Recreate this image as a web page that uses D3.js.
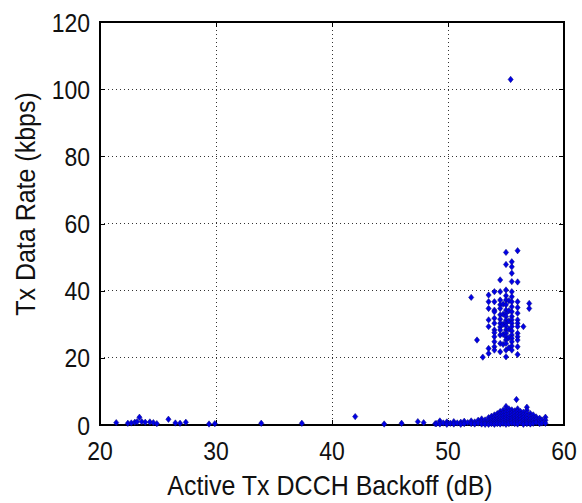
<!DOCTYPE html>
<html>
<head>
<meta charset="utf-8">
<script src="https://cdn.jsdelivr.net/npm/d3@7"></script>
<style>
  html, body { margin: 0; padding: 0; background: #fff; }
  svg { display: block; }
  text { font-family: "Liberation Sans", Arial, sans-serif; fill: #111; }
</style>
</head>
<body>
<div id="chart"></div>
<script>
// ---- data ----
const xTicks = [20, 30, 40, 50, 60];
const yTicks = [0, 20, 40, 60, 80, 100, 120];
const xLabel = "Active Tx DCCH Backoff (dB)";
const yLabel = "Tx Data Rate (kbps)";

// sparse low-rate points at small backoff
const sparsePoints = [
  [21.4, 0.7], [22.4, 0.5], [22.7, 0.6], [23.0, 0.8], [23.2, 1.0], [23.4, 2.3],
  [23.6, 1.0], [23.9, 0.8], [24.3, 0.9], [24.6, 0.7], [24.9, 0.4], [25.9, 1.7],
  [26.5, 0.6], [26.9, 0.5], [27.4, 0.8], [29.4, 0.3], [29.9, 0.4], [33.9, 0.5],
  [37.4, 0.5], [42.0, 2.5], [44.5, 0.3], [46.0, 0.5], [47.4, 1.0], [47.9, 0.7],
  [48.9, 0.4]
];

// dense low-rate band (backoff 49..58.5 dB)
const lowBandPoints = [
  [49.0, 0.4], [49.3, 1.2], [49.3, 0.3], [49.6, 0.6], [49.9, 0.9], [49.9, 0.2],
  [50.2, 0.5], [50.5, 1.0], [50.5, 0.3], [50.8, 0.6], [51.1, 0.8], [51.1, 0.2],
  [51.4, 1.1], [51.4, 0.4], [51.7, 0.7], [52.0, 1.2], [52.0, 0.4], [52.3, 0.9],
  [52.3, 0.3], [52.6, 1.4], [52.6, 0.6], [52.9, 1.8], [52.9, 1.0], [52.9, 0.3],
  [53.2, 1.5], [53.2, 0.7], [53.2, 0.2],
  [53.5, 2.2], [53.5, 1.3], [53.5, 0.6], [53.5, 0.2],
  [53.75, 2.6], [53.75, 1.8], [53.75, 1.0], [53.75, 0.4],
  [54.0, 3.0], [54.0, 2.2], [54.0, 1.4], [54.0, 0.7], [54.0, 0.2],
  [54.25, 3.4], [54.25, 2.5], [54.25, 1.7], [54.25, 1.0], [54.25, 0.4],
  [54.5, 4.0], [54.5, 3.2], [54.5, 2.4], [54.5, 1.6], [54.5, 0.9], [54.5, 0.3],
  [54.75, 4.4], [54.75, 3.5], [54.75, 2.7], [54.75, 1.9], [54.75, 1.2], [54.75, 0.5],
  [55.0, 5.5], [55.0, 4.6], [55.0, 3.8], [55.0, 3.0], [55.0, 2.2], [55.0, 1.5], [55.0, 0.8], [55.0, 0.2],
  [55.25, 4.8], [55.25, 4.0], [55.25, 3.2], [55.25, 2.4], [55.25, 1.7], [55.25, 1.0], [55.25, 0.4],
  [55.5, 4.5], [55.5, 3.6], [55.5, 2.8], [55.5, 2.0], [55.5, 1.3], [55.5, 0.6],
  [55.75, 4.2], [55.75, 3.4], [55.75, 2.6], [55.75, 1.8], [55.75, 1.1], [55.75, 0.4],
  [55.9, 7.6],
  [56.0, 4.8], [56.0, 4.0], [56.0, 3.2], [56.0, 2.4], [56.0, 1.6], [56.0, 0.9], [56.0, 0.3],
  [56.25, 4.0], [56.25, 3.2], [56.25, 2.4], [56.25, 1.6], [56.25, 0.8],
  [56.5, 3.8], [56.5, 3.0], [56.5, 2.2], [56.5, 1.4], [56.5, 0.7], [56.5, 0.2],
  [56.8, 5.3], [56.8, 4.4], [56.8, 3.5], [56.8, 2.6], [56.8, 1.8], [56.8, 1.0], [56.8, 0.4],
  [57.1, 3.4], [57.1, 2.5], [57.1, 1.7], [57.1, 0.9], [57.1, 0.3],
  [57.35, 3.0], [57.35, 2.1], [57.35, 1.3], [57.35, 0.5],
  [57.6, 2.4], [57.6, 1.6], [57.6, 0.8],
  [57.9, 2.0], [57.9, 1.2], [57.9, 0.4],
  [58.1, 1.5], [58.1, 0.6],
  [58.4, 2.3], [58.4, 1.4], [58.4, 0.5]
];

// high-rate cluster (20..52 kbps around 53..57 dB)
const highClusterPoints = [
  [52.0, 38.0], [52.5, 25.3], [53.0, 20.2],
  [53.5, 38.7], [53.5, 36.7], [53.5, 34.7], [53.5, 31.3], [53.5, 29.3], [53.5, 22.8], [53.5, 21.3],
  [54.0, 39.7], [54.0, 36.7], [54.0, 34.2], [54.0, 33.7], [54.0, 31.8], [54.0, 30.3], [54.0, 28.3],
  [54.0, 27.5], [54.0, 26.3], [54.0, 24.8], [54.0, 23.3], [54.0, 22.3],
  [54.5, 43.2], [54.5, 39.7], [54.5, 37.2], [54.5, 35.8], [54.5, 34.7], [54.5, 32.8], [54.5, 31.5],
  [54.5, 30.3], [54.5, 29.2], [54.5, 28.3], [54.5, 26.8], [54.5, 24.3], [54.5, 21.8],
  [54.75, 36.0], [54.75, 33.0], [54.75, 30.0], [54.75, 27.0], [54.75, 24.0],
  [55.0, 51.4], [55.0, 47.8], [55.0, 40.2], [55.0, 38.5], [55.0, 37.2], [55.0, 35.8], [55.0, 34.2],
  [55.0, 33.2], [55.0, 32.3], [55.0, 31.2], [55.0, 30.3], [55.0, 29.5], [55.0, 28.3], [55.0, 27.3],
  [55.0, 26.3], [55.0, 25.3], [55.0, 24.3], [55.0, 22.3], [55.0, 20.3],
  [55.25, 37.0], [55.25, 34.0], [55.25, 31.0], [55.25, 28.5], [55.25, 26.0], [55.25, 23.0],
  [55.5, 48.6], [55.5, 47.1], [55.5, 45.2], [55.5, 42.7], [55.5, 39.7], [55.5, 38.2], [55.5, 36.7],
  [55.5, 35.2], [55.5, 33.7], [55.5, 32.3], [55.5, 31.3], [55.5, 30.3], [55.5, 29.3], [55.5, 28.0],
  [55.5, 26.8], [55.5, 25.8], [55.5, 24.8], [55.5, 23.5], [55.5, 22.3],
  [56.0, 51.9], [56.0, 42.6], [56.0, 36.7], [56.0, 35.0], [56.0, 33.3], [56.0, 31.3], [56.0, 30.3],
  [56.0, 29.3], [56.0, 27.3], [56.0, 26.3], [56.0, 25.3], [56.0, 23.3], [56.0, 21.0],
  [56.5, 29.3], [57.0, 36.2], [57.0, 34.7]
];

const outlierPoints = [[55.4, 102.9]];

// ---- layout ----
const W = 582, H = 503;
const plotLeft = 100, plotRight = 564, plotTop = 22, plotBottom = 425;

const svg = d3.select("#chart").append("svg")
  .attr("width", W).attr("height", H)
  .style("background", "#fff");

const x = d3.scaleLinear().domain([20, 60]).range([plotLeft, plotRight]);
const y = d3.scaleLinear().domain([0, 120]).range([plotBottom, plotTop]);

// grid (dotted), skip border positions
const grid = svg.append("g").attr("class", "grid");
grid.selectAll("line.gx").data(xTicks.filter(v => v > 20 && v < 60)).join("line")
  .attr("x1", d => x(d)).attr("x2", d => x(d))
  .attr("y1", plotTop).attr("y2", plotBottom)
  .attr("stroke", "#333").attr("stroke-width", 1)
  .attr("stroke-dasharray", "1,3").attr("shape-rendering", "crispEdges");
grid.selectAll("line.gy").data(yTicks.filter(v => v > 0 && v < 120)).join("line")
  .attr("x1", plotLeft).attr("x2", plotRight)
  .attr("y1", d => y(d)).attr("y2", d => y(d))
  .attr("stroke", "#333").attr("stroke-width", 1)
  .attr("stroke-dasharray", "1,3").attr("shape-rendering", "crispEdges");

// axes tick marks (inward) on all four sides
const tickLen = 5;
function tickAxis(axis, tx, ty) {
  const g = svg.append("g").attr("transform", `translate(${tx},${ty})`).call(axis);
  g.select(".domain").remove();
  g.selectAll("text").remove();
  g.selectAll("line").attr("stroke", "#000").attr("shape-rendering", "crispEdges");
  return g;
}
tickAxis(d3.axisBottom(x).tickValues(xTicks).tickSizeInner(-tickLen).tickSizeOuter(0), 0, plotBottom);
tickAxis(d3.axisTop(x).tickValues(xTicks).tickSizeInner(-tickLen).tickSizeOuter(0), 0, plotTop);
tickAxis(d3.axisLeft(y).tickValues(yTicks).tickSizeInner(-tickLen).tickSizeOuter(0), plotLeft, 0);
tickAxis(d3.axisRight(y).tickValues(yTicks).tickSizeInner(-tickLen).tickSizeOuter(0), plotRight, 0);

// box
svg.append("rect")
  .attr("x", plotLeft).attr("y", plotTop)
  .attr("width", plotRight - plotLeft).attr("height", plotBottom - plotTop)
  .attr("fill", "none").attr("stroke", "#000").attr("stroke-width", 1.2)
  .attr("shape-rendering", "crispEdges");

// tick labels
const tickFont = 23, sy = 1.15;
svg.append("g").selectAll("text").data(xTicks).join("text")
  .attr("transform", d => `translate(${x(d)},460) scale(1,${sy})`)
  .attr("text-anchor", "middle")
  .attr("font-size", tickFont)
  .text(d => d);
svg.append("g").selectAll("text").data(yTicks).join("text")
  .attr("transform", d => `translate(90,${y(d) + 9.5}) scale(1,${sy})`)
  .attr("text-anchor", "end")
  .attr("font-size", tickFont)
  .text(d => d);

// axis labels
svg.append("text")
  .attr("transform", `translate(330,495) scale(1,1.1)`)
  .attr("text-anchor", "middle").attr("font-size", 25)
  .text(xLabel);
svg.append("text")
  .attr("transform", `translate(35,204) rotate(-90) scale(1,1.1)`)
  .attr("text-anchor", "middle").attr("font-size", 25)
  .text(yLabel);

// markers: small diamonds
const diamond = {
  draw(ctx, size) {
    const hw = 2.6, hh = 3.2;
    ctx.moveTo(0, -hh); ctx.lineTo(hw, 0); ctx.lineTo(0, hh); ctx.lineTo(-hw, 0); ctx.closePath();
  }
};
const sym = d3.symbol().type(diamond).size(20);
const allPoints = [...sparsePoints, ...lowBandPoints, ...highClusterPoints, ...outlierPoints];
svg.append("g").selectAll("path").data(allPoints).join("path")
  .attr("d", sym)
  .attr("transform", d => `translate(${x(d[0])},${y(d[1])})`)
  .attr("fill", "#0000e6")
  .attr("stroke", "#0a0a78")
  .attr("stroke-width", 0.5);
</script>
</body>
</html>
